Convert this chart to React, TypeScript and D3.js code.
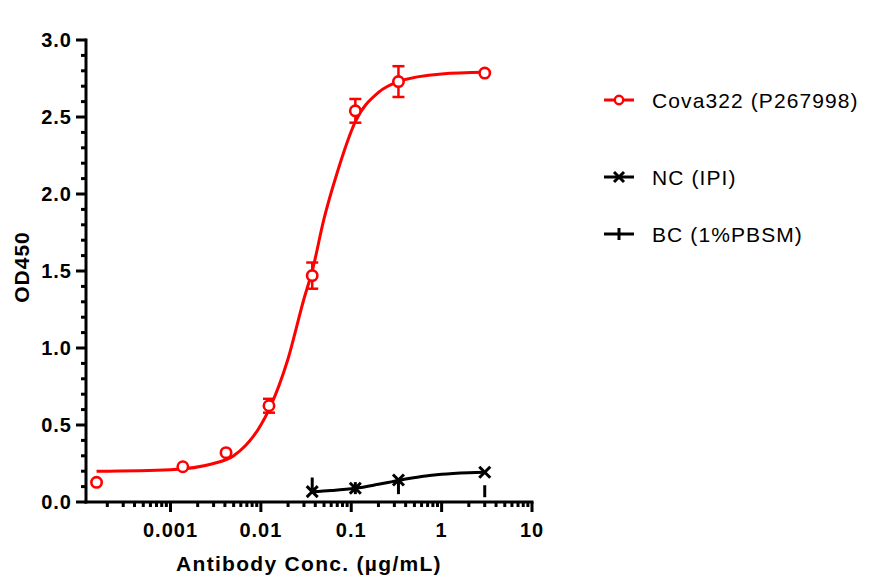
import React from 'react';
import * as d3 from "d3";

// Cova322 measured points (µg/mL, OD450, SD)
const covaConc = [0.000152, 0.00137, 0.00412, 0.0123, 0.037, 0.111, 0.333, 3];
const covaOD = [0.128, 0.229, 0.32, 0.625, 1.47, 2.54, 2.73, 2.785];
const covaErr = [0, 0, 0, 0.045, 0.085, 0.077, 0.10, 0];
// fitted curve
const covaFitConc = [0.000152, 0.001, 0.003, 0.005, 0.01, 0.0123, 0.02, 0.03, 0.037, 0.05, 0.07, 0.111, 0.2, 0.333, 1, 3];
const covaFitOD = [0.20, 0.21, 0.25, 0.30, 0.50, 0.60, 0.93, 1.32, 1.50, 1.84, 2.14, 2.47, 2.66, 2.73, 2.78, 2.79];

// controls
const ctrlConc = [0.037, 0.111, 0.333, 3];
const ncOD = [0.067, 0.089, 0.143, 0.193];
const bcOD = [0.12, 0.09, 0.09, 0.07];
const ncFitConc = [0.037, 0.06, 0.111, 0.2, 0.333, 0.6, 1, 2, 3];
const ncFitOD = [0.066, 0.074, 0.089, 0.115, 0.14, 0.165, 0.18, 0.19, 0.193];

const xTicks = [0.001, 0.01, 0.1, 1, 10];
const xTickLabels = ["0.001", "0.01", "0.1", "1", "10"];
const yTicks = [0, 0.5, 1, 1.5, 2, 2.5, 3];
const yTickLabels = ["0.0", "0.5", "1.0", "1.5", "2.0", "2.5", "3.0"];

const legendNames = ["Cova322 (P267998)", "NC (IPI)", "BC (1%PBSM)"];

const RED = "#FF0000";
const FONT = "'Liberation Sans', Arial, Helvetica, sans-serif";

const x = d3.scaleLog().domain([0.0001162, 10]).range([86, 532]);
const y = d3.scaleLinear().domain([0, 3]).range([502, 40]);

const line = d3.line<[number, number]>()
  .x(d => x(d[0]))
  .y(d => y(d[1]))
  .curve(d3.curveMonotoneX);

// minor ticks on the log axis
const xMinor: number[] = [];
for (let e = -4; e < 1; e++) {
  for (let k = 2; k <= 9; k++) {
    const v = k * Math.pow(10, e);
    if (v >= x.domain()[0] && v <= 10) xMinor.push(v);
  }
}
const yMinor = d3.range(0, 31).map(i => i / 10);

function Cross({ cx, cy, s }: { cx: number, cy: number, s: number }) {
  return (
    <g stroke="#000" strokeWidth={3}>
      <line x1={cx - s} y1={cy - s} x2={cx + s} y2={cy + s} />
      <line x1={cx - s} y1={cy + s} x2={cx + s} y2={cy - s} />
    </g>
  );
}

export default function App() {
  const covaFit = covaFitConc.map((c, i) => [c, covaFitOD[i]] as [number, number]);
  const ncFit = ncFitConc.map((c, i) => [c, ncFitOD[i]] as [number, number]);

  return (
    <svg width={874} height={586} style={{ position: "absolute", left: 0, top: 0, background: "#fff" }}
      fontFamily={FONT}>
      {/* y axis */}
      <g stroke="#000" strokeWidth={3}>
        <line x1={86} y1={y(3) - 1.5} x2={86} y2={y(0) + 1.5} />
        {yMinor.map((v, i) => (
          <line key={"ym" + i} x1={i % 5 === 0 ? 76 : 81} x2={86} y1={y(v)} y2={y(v)} />
        ))}
      </g>
      {yTicks.map((v, i) => (
        <text key={"yl" + i} x={72} y={y(v)} dy="0.36em" textAnchor="end" letterSpacing={1}
          fontSize={20} fontWeight="bold">{yTickLabels[i]}</text>
      ))}
      <text transform={`translate(29,${y(1.5) - 4}) rotate(-90)`} textAnchor="middle" letterSpacing={1}
        fontSize={21} fontWeight="bold">OD450</text>

      {/* x axis */}
      <g stroke="#000" strokeWidth={3}>
        <line x1={84.5} y1={502} x2={533.5} y2={502} />
        {xMinor.map((v, i) => (
          <line key={"xm" + i} x1={x(v)} x2={x(v)} y1={502} y2={507} />
        ))}
        {xTicks.map((v, i) => (
          <line key={"xt" + i} x1={x(v)} x2={x(v)} y1={502} y2={512} />
        ))}
      </g>
      {xTicks.map((v, i) => (
        <text key={"xl" + i} x={x(v)} y={537} textAnchor="middle" letterSpacing={1}
          fontSize={20} fontWeight="bold">{xTickLabels[i]}</text>
      ))}
      <text x={309} y={571} textAnchor="middle" fontSize={21} fontWeight="bold" letterSpacing={1.3}>
        Antibody Conc. (µg/mL)
      </text>

      {/* Cova322 */}
      <path d={line(covaFit) || ""} fill="none" stroke={RED} strokeWidth={3} />
      {covaConc.map((c, i) => covaErr[i] > 0 ? (
        <g key={"eb" + i} stroke={RED} strokeWidth={2.5}>
          <line x1={x(c)} x2={x(c)} y1={y(covaOD[i] - covaErr[i])} y2={y(covaOD[i] + covaErr[i])} />
          <line x1={x(c) - 6} x2={x(c) + 6} y1={y(covaOD[i] + covaErr[i])} y2={y(covaOD[i] + covaErr[i])} />
          <line x1={x(c) - 6} x2={x(c) + 6} y1={y(covaOD[i] - covaErr[i])} y2={y(covaOD[i] - covaErr[i])} />
        </g>
      ) : null)}
      {covaConc.map((c, i) => (
        <circle key={"cp" + i} cx={x(c)} cy={y(covaOD[i])} r={5.2}
          fill="#fff" stroke={RED} strokeWidth={2.6} />
      ))}

      {/* NC / BC */}
      <path d={line(ncFit) || ""} fill="none" stroke="#000" strokeWidth={3} />
      {ctrlConc.map((c, i) => (
        <line key={"bc" + i} x1={x(c)} x2={x(c)} y1={y(bcOD[i]) - 6} y2={y(bcOD[i]) + 6}
          stroke="#000" strokeWidth={3} />
      ))}
      {ctrlConc.map((c, i) => (
        <Cross key={"nc" + i} cx={x(c)} cy={y(ncOD[i])} s={5.5} />
      ))}

      {/* legend */}
      <g letterSpacing={1.1}>
        <line x1={604} x2={634} y1={100} y2={100} stroke={RED} strokeWidth={3} />
        <circle cx={619} cy={100} r={4.2} fill="#fff" stroke={RED} strokeWidth={2.4} />
        <text x={652} y={100} dy="0.36em" fontSize={21}>{legendNames[0]}</text>

        <line x1={604} x2={634} y1={177} y2={177} stroke="#000" strokeWidth={3} />
        <Cross cx={619} cy={177} s={5} />
        <text x={652} y={177} dy="0.36em" fontSize={21}>{legendNames[1]}</text>

        <line x1={604} x2={634} y1={234} y2={234} stroke="#000" strokeWidth={3} />
        <line x1={619} x2={619} y1={228} y2={240} stroke="#000" strokeWidth={3} />
        <text x={652} y={234} dy="0.36em" fontSize={21}>{legendNames[2]}</text>
      </g>
    </svg>
  );
}
